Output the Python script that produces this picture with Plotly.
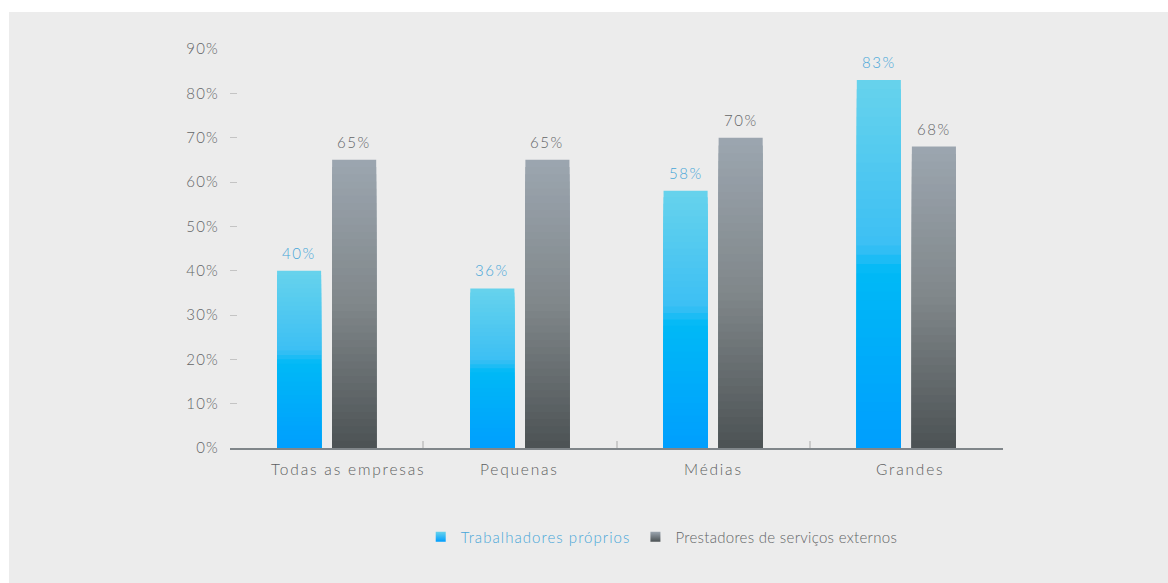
import plotly.graph_objects as go

# Data
categories = ["Todas as empresas", "Pequenas", "Médias", "Grandes"]
proprios = [40, 36, 58, 83]
externos = [65, 65, 70, 68]
series_names = ["Trabalhadores próprios", "Prestadores de serviços externos"]
y_ticks = [0, 10, 20, 30, 40, 50, 60, 70, 80, 90]
y_tick_labels = ["0%", "10%", "20%", "30%", "40%", "50%", "60%", "70%", "80%", "90%"]

# Horizontal nudge (px) of each category caption
label_nudge = [21, 0, 0, 4]

# Vertical gradient stops (fraction of bar height from the base -> colour)
blue_stops = [(0.0, (0, 158, 254)), (0.48, (0, 185, 246)), (0.55, (60, 191, 244)), (1.0, (103, 211, 236))]
gray_stops = [(0.0, (76, 82, 84)), (0.5, (128, 135, 138)), (1.0, (156, 166, 176))]

BLUE_TEXT = "#47a6d8"
GRAY_TEXT = "#636567"
FONT = "Lato, 'Noto Sans', sans-serif"
N_LEVELS = 40
BAR_W = 0.228


def spaced(text, spacing=1.5, color=None):
    style = "letter-spacing:%spx" % spacing
    if color:
        style += ";color:%s" % color
    return "<span style='%s'>%s</span>" % (style, text)


def lerp_color(stops, t):
    for (t0, c0), (t1, c1) in zip(stops, stops[1:]):
        if t <= t1:
            f = 0 if t1 == t0 else (t - t0) / (t1 - t0)
            return "rgb(%d,%d,%d)" % tuple(round(a + (b - a) * f) for a, b in zip(c0, c1))
    return "rgb(%d,%d,%d)" % stops[-1][1]


fig = go.Figure()


def add_gradient_bars(values, stops, offset):
    # Overlaid bars, tallest (lightest) first, each shorter one painted on top,
    # so the visible bands form a gradient from the base to the top of each bar.
    for k in range(N_LEVELS):
        frac = 1 - k / N_LEVELS
        fig.add_trace(go.Bar(
            x=categories,
            y=[v * frac for v in values],
            width=BAR_W,
            offset=offset,
            marker=dict(color=lerp_color(stops, frac - 0.5 / N_LEVELS), line=dict(width=0)),
            showlegend=False,
            hoverinfo="skip",
        ))


add_gradient_bars(proprios, blue_stops, -0.2565)
add_gradient_bars(externos, gray_stops, 0.0285)

# Legend entries with gradient square markers
fig.add_trace(go.Scatter(
    x=[None], y=[None], mode="markers",
    name=spaced(series_names[0], 1.05, BLUE_TEXT),
    marker=dict(symbol="square", size=10, color="rgb(103,211,236)",
                gradient=dict(type="vertical", color="rgb(0,158,254)"), line=dict(width=0)),
))
fig.add_trace(go.Scatter(
    x=[None], y=[None], mode="markers",
    name=spaced(series_names[1], 0.3, GRAY_TEXT),
    marker=dict(symbol="square", size=10, color="rgb(156,166,176)",
                gradient=dict(type="vertical", color="rgb(76,82,84)"), line=dict(width=0)),
))

annotations = []
# Value labels above bars
for cat, v in zip(categories, proprios):
    annotations.append(dict(x=cat, y=v, text=spaced(f"{v}%"), showarrow=False, xshift=-27.5, yshift=18,
                            font=dict(family=FONT, size=15, color=BLUE_TEXT, weight=300)))
for cat, v in zip(categories, externos):
    annotations.append(dict(x=cat, y=v, text=spaced(f"{v}%"), showarrow=False, xshift=27.5, yshift=18,
                            font=dict(family=FONT, size=15, color=GRAY_TEXT, weight=300)))
# Category captions under the axis
for cat, dx in zip(categories, label_nudge):
    annotations.append(dict(x=cat, y=0, yref="y", text=spaced(cat, 1.8), showarrow=False,
                            xshift=dx, yanchor="top", yshift=-10,
                            font=dict(family=FONT, size=15.5, color="#5c5e60", weight=300)))

fig.update_layout(
    width=1168, height=583,
    margin=dict(l=230, r=165, t=49, b=135),
    paper_bgcolor="white",
    plot_bgcolor="rgba(0,0,0,0)",
    barmode="overlay",
    font=dict(family=FONT, size=15, color=GRAY_TEXT, weight=300),
    annotations=annotations,
    shapes=[dict(type="rect", xref="paper", yref="paper",
                 x0=(9 - 230) / 773, x1=(1168 - 230) / 773,
                 y0=(448 - 583) / 399, y1=(448 - 12) / 399,
                 fillcolor="#ececec", line=dict(width=0), layer="below")],
    xaxis=dict(
        type="category", range=[-0.5, 3.5],
        showticklabels=False,
        showline=True, linecolor="#80868a", linewidth=2,
        ticks="inside", tickson="boundaries", ticklen=7, tickwidth=2, tickcolor="#cbcbcb",
        showgrid=False, zeroline=False,
    ),
    yaxis=dict(
        range=[0, 90], tickvals=y_ticks, ticktext=[spaced(t, 1.2) for t in y_tick_labels],
        showline=False, showgrid=False, zeroline=False,
        ticks="inside", ticklen=7, tickwidth=1, tickcolor="#c4c4c4",
        tickfont=dict(family=FONT, size=15, color=GRAY_TEXT, weight=300),
        ticklabelstandoff=10,
    ),
    legend=dict(
        orientation="h", x=0.5585, xanchor="center", y=-0.223, yanchor="middle",
        bgcolor="rgba(0,0,0,0)", font=dict(family=FONT, size=15, weight=300),
        itemwidth=30,
    ),
)

fig.write_html("out.html")
